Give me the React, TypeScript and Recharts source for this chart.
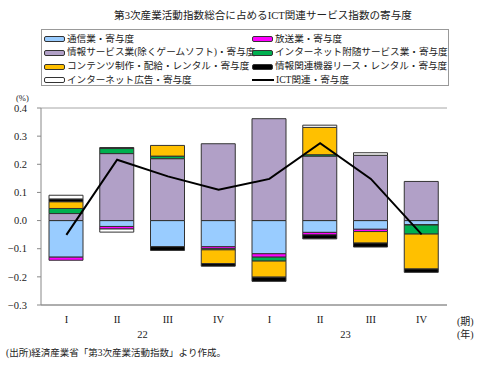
import { ComposedChart, Bar, Line, XAxis, YAxis, CartesianGrid } from "recharts";

const quarters = ["I", "II", "III", "IV", "I", "II", "III", "IV"];
const years = ["22", "23"];
const yTicks = [-0.3, -0.2, -0.1, 0, 0.1, 0.2, 0.3, 0.4];

// contributions (% pt) per quarter
const tsushin = [-0.13, -0.021, -0.093, -0.093, -0.118, -0.042, -0.031, -0.014];
const hoso = [-0.011, -0.009, 0, -0.007, -0.012, -0.009, -0.008, -0.002];
const johoService = [0.025, 0.238, 0.22, 0.273, 0.362, 0.229, 0.232, 0.139];
const netFuzui = [0.018, 0.018, 0.009, -0.004, -0.014, 0.005, 0, -0.032];
const contents = [0.024, 0, 0.038, -0.049, -0.057, 0.097, -0.041, -0.124];
const lease = [0.01, 0.0035, -0.013, -0.009, -0.015, -0.014, -0.014, -0.012];
const netAd = [0.013, -0.011, 0, 0, 0, 0.008, 0.009, 0];
const ict = [-0.051, 0.216, 0.157, 0.11, 0.148, 0.275, 0.148, -0.049];

const series = [
  { key: "tsushin", name: "通信業・寄与度", color: "#99CCFF", values: tsushin },
  { key: "hoso", name: "放送業・寄与度", color: "#FF00FF", values: hoso },
  { key: "johoService", name: "情報サービス業(除くゲームソフト)・寄与度", color: "#B1A0C7", values: johoService },
  { key: "netFuzui", name: "インターネット附随サービス業・寄与度", color: "#00B050", values: netFuzui },
  { key: "contents", name: "コンテンツ制作・配給・レンタル・寄与度", color: "#FFC000", values: contents },
  { key: "lease", name: "情報関連機器リース・レンタル・寄与度", color: "#000000", values: lease },
  { key: "netAd", name: "インターネット広告・寄与度", color: "#FFFFFF", values: netAd },
];

const data = quarters.map((q, i) => {
  const row: Record<string, string | number> = { q, ict: ict[i] };
  series.forEach((s) => (row[s.key] = s.values[i]));
  return row;
});

const W = 480;
const H = 369;
const margin = { top: 108, right: 33, bottom: 44, left: 0 };
const yAxisW = 41;
const plotW = W - margin.left - margin.right - yAxisW;

const FONT = "'Liberation Serif', 'Noto Sans CJK JP', serif";

const fmt = (v: number) => (v < 0 ? "\u2212" + Math.abs(v).toFixed(1) : v.toFixed(1));

function QuarterTick(props: any) {
  const { x, y, payload, index } = props;
  const i = index ?? payload.index;
  const half = plotW / quarters.length / 2;
  return (
    <g>
      <text x={x} y={y} dy={10} textAnchor="middle" fontSize={10.5} fill="#222" fontFamily={FONT}>
        {payload.value}
      </text>
      {i % 4 === 1 && (
        <text x={x + half} y={y} dy={25} textAnchor="middle" fontSize={10.5} fill="#222" fontFamily={FONT}>
          {years[Math.floor(i / 4)]}
        </text>
      )}
    </g>
  );
}

function Swatch({ color, line }: { color: string; line?: boolean }) {
  if (line) {
    return <span style={{ display: "inline-block", width: 22, height: 2, background: "#000", marginRight: 2, verticalAlign: "middle" }} />;
  }
  return (
    <span
      style={{
        display: "inline-block",
        width: 19,
        height: 4,
        background: color,
        border: "1.5px solid #333",
        borderRadius: 2,
        marginRight: 2,
        verticalAlign: "middle",
      }}
    />
  );
}

export default function App() {
  const items = [
    ...series.map((s) => ({ name: s.name, color: s.color, line: false })),
    { name: "ICT関連・寄与度", color: "#000", line: true },
  ];
  return (
    <div style={{ position: "absolute", left: 0, top: 0, width: W, height: H, background: "#fff", fontFamily: FONT, color: "#222" }}>
      <div style={{ position: "absolute", left: 0, top: 7, width: 526, textAlign: "center", fontSize: 10.6, whiteSpace: "nowrap" }}>
        第3次産業活動指数総合に占めるICT関連サービス指数の寄与度
      </div>
      <div
        style={{
          position: "absolute",
          left: 41,
          top: 29,
          width: 408,
          height: 57,
          border: "1px solid #999",
          boxSizing: "border-box",
        }}
      >
        {items.map((it, i) => (
          <div
            key={it.name}
            style={{
              position: "absolute",
              left: i % 2 === 0 ? 2 : 210,
              top: 1.5 + Math.floor(i / 2) * 13.7,
              fontSize: 9.6,
              lineHeight: "13px",
              whiteSpace: "nowrap",
            }}
          >
            <Swatch color={it.color} line={it.line} />
            {it.name}
          </div>
        ))}
      </div>
      <div style={{ position: "absolute", left: 16, top: 93, fontSize: 8.5 }}>(%)</div>
      <div style={{ position: "absolute", left: 0, top: 0 }}>
        <ComposedChart width={W} height={H} data={data} margin={margin} stackOffset="sign" barSize={34}>
          <CartesianGrid vertical={false} stroke="#a6a6a6" strokeWidth={1} />
          <XAxis
            dataKey="q"
            allowDuplicatedCategory
            tickLine={false}
            axisLine={{ stroke: "#888" }}
            tick={<QuarterTick />}
            interval={0}
            height={20}
          />
          <YAxis
            yAxisId="left"
            width={yAxisW}
            domain={[-0.3, 0.4]}
            ticks={yTicks}
            tickFormatter={fmt}
            tickSize={4}
            tickMargin={10}
            tickLine={{ stroke: "#888" }}
            axisLine={{ stroke: "#888" }}
            tick={{ fontSize: 10.5, fill: "#222", fontFamily: FONT }}
            interval={0}
            allowDataOverflow
          />
          <YAxis
            yAxisId="right"
            orientation="right"
            width={0}
            domain={[-0.3, 0.4]}
            tick={false}
            tickLine={false}
            axisLine={{ stroke: "#888" }}
            allowDataOverflow
          />
          {series.map((s) => (
            <Bar
              key={s.key}
              yAxisId="left"
              dataKey={s.key}
              name={s.name}
              stackId="a"
              fill={s.color}
              stroke="#333"
              strokeWidth={1}
              isAnimationActive={false}
            />
          ))}
          <Line
            yAxisId="left"
            type="linear"
            dataKey="ict"
            name="ICT関連・寄与度"
            stroke="#000"
            strokeWidth={2}
            dot={false}
            isAnimationActive={false}
          />
        </ComposedChart>
      </div>
      <div style={{ position: "absolute", left: 457, top: 315, fontSize: 10, lineHeight: "13px" }}>
        (期)
        <br />
        (年)
      </div>
      <div style={{ position: "absolute", left: 6, top: 345, fontSize: 9.5, whiteSpace: "nowrap" }}>
        (出所)経済産業省「第3次産業活動指数」より作成。
      </div>
    </div>
  );
}
